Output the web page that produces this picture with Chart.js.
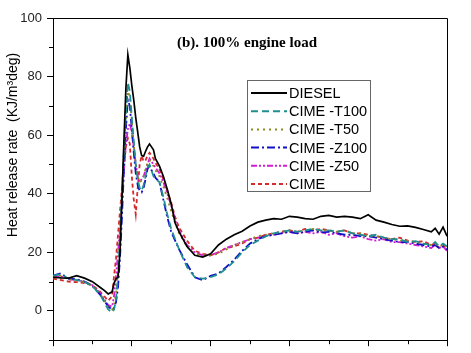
<!DOCTYPE html>
<html>
<head>
<meta charset="utf-8">
<script src="https://cdn.jsdelivr.net/npm/chart.js@4"></script>
<style>
  html, body { margin: 0; padding: 0; background: #fff; }
  #wrap { width: 471px; height: 353px; }
</style>
</head>
<body>
<div id="wrap"><canvas id="hrrChart" width="471" height="353"></canvas></div>
<script>
const crankAngle = [-20, -18, -16, -14, -12, -10, -8, -7, -6, -5,
  -4.5, -4, -3.5, -3, -2.5, -2, -1.5, -1, -0.5, 0, 0.5, 1, 1.5, 2, 2.5, 3, 3.5, 4, 4.5, 5, 5.5, 6,
  7, 8, 9, 10, 11, 12,
  14, 16, 18, 20, 22, 24, 26, 28, 30, 32, 34, 36, 38, 40, 42, 44, 46, 48, 50, 52, 54, 56, 58, 60,
  62, 64, 66, 68, 70, 72, 74, 76, 77, 78, 79, 80];

const diesel = [11.5, 11.3, 11.2, 12, 11.2, 10, 8, 7, 5.8, 6.5,
  9.5, 11, 11.5, 20, 38, 58, 76, 87.5, 83, 77, 72, 66, 61, 56, 53, 52.8, 54.5, 56, 57, 56, 55, 52,
  49.5, 46, 41.5, 36.5, 30, 27,
  22, 19, 18.4, 19.5, 22.5, 24.5, 26, 27.2, 29, 30.3, 31, 31.5, 31.3, 32.3, 32, 31.5, 31.3, 32.3, 32.6, 32, 32.3, 32, 31.5, 32.8,
  31, 30.3, 29.5, 28.9, 29, 28.5, 27.8, 27, 28.2, 26.2, 28.6, 25.5];

const cimeT100 = [12, 12.5, 11, 10.5, 10, 8.5, 5.5, 3, 0.5, -0.5,
  0.5, 4, 12, 25, 40, 55, 68, 78, 75, 66, 58, 50, 45, 42, 41, 43, 46, 49, 50, 48, 46, 45,
  44, 39, 33, 28, 24.5, 21,
  15, 11.5, 11, 11.5, 12.5, 14.5, 17, 20, 22.5, 24, 25.5, 26.5, 27, 27.5, 27, 27.5, 28, 27.5, 27.5, 27, 27.5, 26.5, 26, 25.5,
  26, 25, 24.5, 24.5, 23.5, 23.8, 23, 22.5, 23.5, 22, 23, 22];

const cimeT50 = [11.8, 12, 10.8, 10.5, 9.8, 8.5, 5.8, 3.5, 1.2, 0.5,
  2, 6, 14, 26, 40, 54, 66, 75, 73, 65, 57, 50, 46, 44, 44.5, 46, 48.5, 50.5, 51.5, 50.5, 49.5, 48,
  46, 42.5, 38.5, 34, 30, 26.5,
  22, 19.5, 19, 19, 19.5, 21, 22.5, 23.5, 24.5, 25.5, 26, 26.5, 27, 27.5, 27, 27.5, 28, 27.5, 27.5, 27, 27.5, 26.5, 26.5, 25.5,
  25.5, 25, 24.5, 24, 24, 23.5, 23, 22.5, 23, 22, 22.5, 22];

const cimeZ100 = [12, 12.8, 11, 10.8, 10, 8.5, 5.5, 3.5, 1.5, 0.5,
  1, 3, 8, 18, 32, 48, 62, 72, 70, 62, 54, 47, 43, 41, 40.5, 42, 45, 48.5, 49.5, 48, 47, 45.5,
  44, 38, 32, 27, 24, 21,
  16, 11.5, 10.5, 12, 12.8, 15, 17.5, 20.5, 23, 24.5, 25.5, 26, 26.5, 27, 26.5, 27, 27.5, 26.8, 27, 26.5, 26, 26, 25.5, 25.5,
  25, 24.5, 24, 23.5, 23.5, 23, 22.5, 22, 22.5, 21.5, 22, 21];

const cimeZ50 = [11.5, 11.8, 10.8, 10.5, 10, 8.8, 6, 4, 2, 1.5,
  5, 12, 20, 28, 38, 48, 57, 62, 64, 61, 56, 50, 46, 44, 45, 46, 48, 50, 52, 51, 50, 49,
  47, 44, 40, 36, 31, 27.5,
  22.5, 20, 19, 19, 20, 21.5, 22.5, 23.5, 24.5, 25, 25.5, 26, 26.5, 27, 26.5, 27, 26.5, 27, 26, 26.5, 25.5, 25, 25.5, 24.5,
  24, 24.5, 23.5, 23.5, 23, 22.5, 22, 21.5, 22.5, 21.5, 22, 20.5];

const cime = [11, 10.5, 10, 9.8, 9.5, 8.8, 6.5, 5, 3.5, 5,
  12, 18, 26, 34, 42, 50, 56, 59, 57, 46, 38, 33, 42, 50, 53, 51, 51.5, 53, 54, 53, 52, 50.5,
  48.5, 45, 41, 37, 32, 28.5,
  24, 20.5, 19.5, 19, 20, 21.5, 22, 23, 24.5, 25, 26, 26.5, 27, 27.5, 27, 28, 27.5, 28, 27.5, 27, 27.5, 26.5, 26.5, 26,
  25.5, 25, 24.5, 25, 24, 23.5, 23.8, 22.5, 23, 21.5, 22.5, 21];

const seriesNames = ["DIESEL", "CIME -T100", "CIME -T50", "CIME -Z100", "CIME -Z50", "CIME"];
const yTickLabels = [0, 20, 40, 60, 80, 100];

function pts(arr) {
  return crankAngle.map((x, i) => ({ x: x, y: arr[i] }));
}

function ds(label, arr, color, dash, width) {
  return {
    label: label,
    data: pts(arr),
    borderColor: color,
    backgroundColor: color,
    borderDash: dash,
    borderWidth: width,
    pointRadius: 0,
    tension: 0,
    fill: false
  };
}

// frame, minor ticks, title, y caption, legend
const decorations = {
  id: "decorations",
  beforeDraw(chart) {
    const c = chart.ctx;
    c.save();
    c.fillStyle = "#fff";
    c.fillRect(0, 0, chart.width, chart.height);
    c.restore();
  },
  afterDraw(chart) {
    const c = chart.ctx;
    const a = chart.chartArea;
    const xs = chart.scales.x, ys = chart.scales.y;
    c.save();
    c.strokeStyle = "#000";
    c.lineWidth = 1;
    c.beginPath();
    c.moveTo(a.left, a.top + 0.5);
    c.lineTo(a.right + 0.5, a.top + 0.5);
    c.lineTo(a.right + 0.5, a.bottom);
    c.stroke();

    // minor ticks
    c.beginPath();
    xs.ticks.forEach((t) => {
      if (t.value % 20 !== 0) {
        const px = Math.round(xs.getPixelForValue(t.value)) + 0.5;
        c.moveTo(px, a.bottom);
        c.lineTo(px, a.bottom + 4);
      }
    });
    ys.ticks.forEach((t) => {
      if (t.value % 20 !== 0) {
        const py = Math.round(ys.getPixelForValue(t.value)) + 0.5;
        c.moveTo(a.left, py);
        c.lineTo(a.left - 4, py);
      }
    });
    c.stroke();

    // title inside plot
    c.fillStyle = "#000";
    c.font = "bold 15px 'Liberation Serif', 'Times New Roman', serif";
    c.textAlign = "left";
    c.textBaseline = "middle";
    c.fillText("(b). 100% engine load", 177, 43);

    // y caption
    c.save();
    c.translate(13, 145);
    c.rotate(-Math.PI / 2);
    c.textAlign = "center";
    c.font = "14px 'Liberation Sans', Arial, sans-serif";
    c.fillText("Heat release rate  (KJ/m\u00B3deg)", 0, 0);
    c.restore();

    // legend
    const lx = 247, ly = 80, lw = 123, lh = 111;
    c.fillStyle = "#fff";
    c.fillRect(lx, ly, lw, lh);
    c.strokeStyle = "#666";
    c.lineWidth = 1;
    c.strokeRect(lx + 0.5, ly + 0.5, lw, lh);
    c.font = "14.5px 'Liberation Sans', Arial, sans-serif";
    c.textAlign = "left";
    chart.data.datasets.forEach((d, i) => {
      const y = ly + 13 + i * 18.2;
      c.beginPath();
      c.strokeStyle = d.borderColor;
      c.lineWidth = d.borderWidth + 0.2;
      c.setLineDash(d.borderDash);
      c.moveTo(lx + 4, y);
      c.lineTo(lx + 40, y);
      c.stroke();
      c.setLineDash([]);
      c.fillStyle = "#000";
      c.fillText(d.label, lx + 42, y + 1);
    });
    c.restore();
  }
};

const ctx = document.getElementById("hrrChart").getContext("2d");
new Chart(ctx, {
  type: "line",
  data: {
    datasets: [
      ds(seriesNames[0], diesel, "#000000", [], 1.7),
      ds(seriesNames[1], cimeT100, "#1f8f8f", [7, 4], 1.8),
      ds(seriesNames[2], cimeT50, "#8a8a1e", [2, 4], 1.8),
      ds(seriesNames[3], cimeZ100, "#1010c8", [8, 3, 2, 3], 1.8),
      ds(seriesNames[4], cimeZ50, "#d21ed2", [6, 2, 2, 2, 2, 2], 1.8),
      ds(seriesNames[5], cime, "#d42a2a", [4, 3], 1.8)
    ]
  },
  options: {
    responsive: false,
    animation: false,
    events: [],
    layout: { padding: { top: 18, right: 24, left: 0, bottom: 0 } },
    plugins: {
      legend: { display: false },
      title: { display: false },
      tooltip: { enabled: false }
    },
    scales: {
      x: {
        type: "linear",
        min: -20,
        max: 80,
        afterFit: (s) => { s.height = 11; },
        border: { display: true, color: "#000", width: 1 },
        grid: {
          drawOnChartArea: false,
          drawTicks: true,
          tickLength: 6,
          tickColor: (c) => (c.tick && c.tick.value % 20 === 0 ? "#000" : "rgba(0,0,0,0)")
        },
        ticks: { stepSize: 10, display: false }
      },
      y: {
        min: -10,
        max: 100,
        afterFit: (s) => { s.width = 53; },
        border: { display: true, color: "#000", width: 1 },
        grid: {
          drawOnChartArea: false,
          drawTicks: true,
          tickLength: 6,
          tickColor: (c) => (c.tick && c.tick.value % 20 === 0 ? "#000" : "rgba(0,0,0,0)")
        },
        ticks: {
          stepSize: 10,
          padding: 5,
          color: "#222",
          font: { family: "'Liberation Sans', Arial, sans-serif", size: 13 },
          callback: (v) => (yTickLabels.includes(v) ? String(v) : "")
        }
      }
    }
  },
  plugins: [decorations]
});
</script>
</body>
</html>
